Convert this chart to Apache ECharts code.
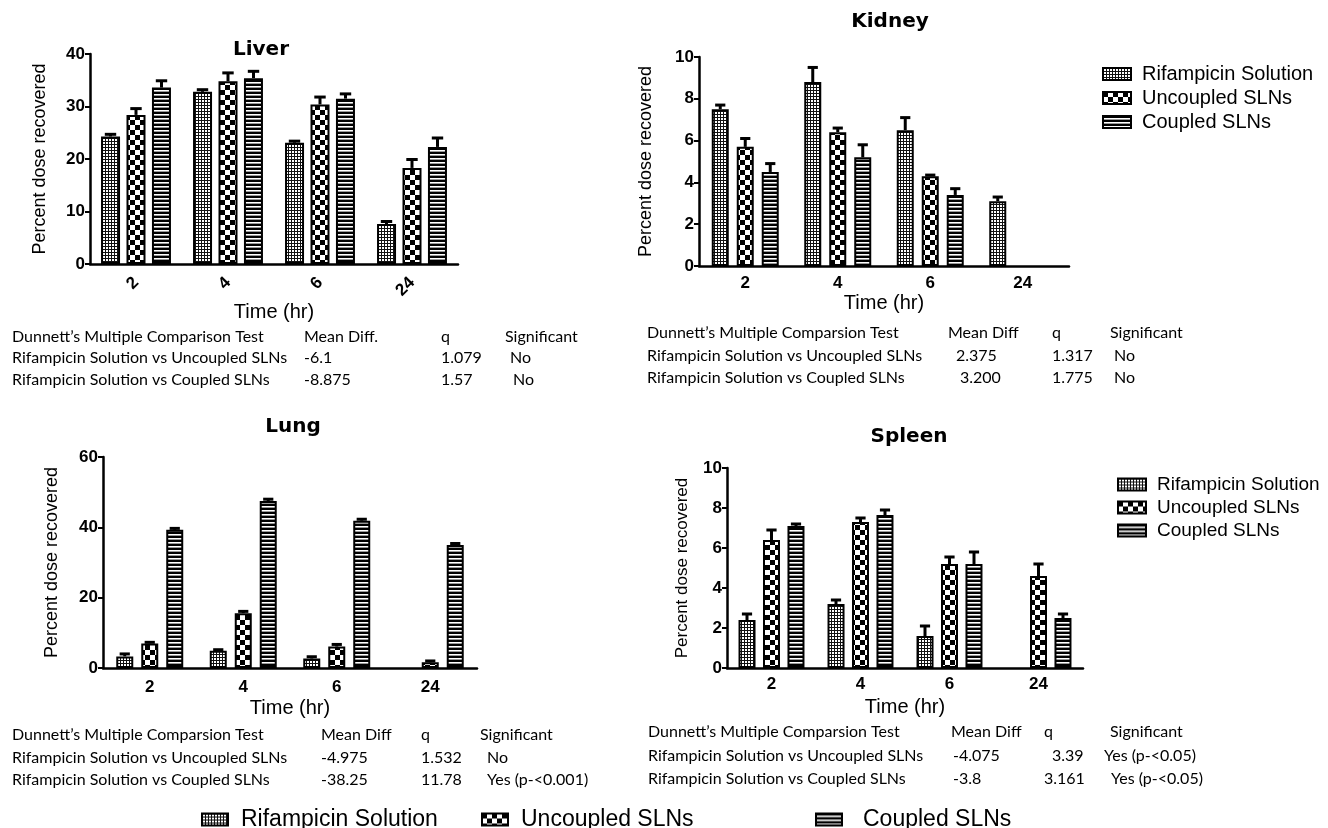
<!DOCTYPE html>
<html>
<head>
<meta charset="utf-8">
<script src="https://cdn.jsdelivr.net/npm/echarts@6/dist/echarts.min.js"></script>
<style>
  html, body { margin: 0; padding: 0; background: #fff; }
  #main { width: 1328px; height: 828px; }
</style>
</head>
<body>
<div id="main"></div>
<script>
// categories and series
var timeLabels = ['2', '4', '6', '24'];
var seriesNames = ['Rifampicin Solution', 'Uncoupled SLNs', 'Coupled SLNs'];

// Liver
var liverRif = [24.3, 32.8, 23.1, 7.6];
var liverRifErr = [0.4, 0.4, 0.3, 0.5];
var liverUnc = [28.4, 34.8, 30.4, 18.3];
var liverUncErr = [1.2, 1.6, 1.4, 1.6];
var liverCoup = [33.6, 35.4, 31.5, 22.3];
var liverCoupErr = [1.3, 1.3, 0.9, 1.7];

// Kidney
var kidneyRif = [7.5, 8.8, 6.5, 3.1];
var kidneyRifErr = [0.2, 0.7, 0.6, 0.2];
var kidneyUnc = [5.7, 6.4, 4.3, null];
var kidneyUncErr = [0.4, 0.2, 0.05, null];
var kidneyCoup = [4.5, 5.2, 3.4, null];
var kidneyCoupErr = [0.4, 0.6, 0.3, null];

// Lung
var lungRif = [3.3, 4.9, 2.7, null];
var lungRifErr = [0.7, 0.3, 0.5, null];
var lungUnc = [7.0, 15.6, 6.1, 1.6];
var lungUncErr = [0.3, 0.5, 0.6, 0.4];
var lungCoup = [39.3, 47.5, 41.9, 35.0];
var lungCoupErr = [0.4, 0.5, 0.4, 0.4];

// Spleen
var spleenRif = [2.4, 3.2, 1.6, null];
var spleenRifErr = [0.3, 0.2, 0.5, null];
var spleenUnc = [6.4, 7.3, 5.2, 4.6];
var spleenUncErr = [0.5, 0.2, 0.35, 0.6];
var spleenCoup = [7.1, 7.65, 5.2, 2.5];
var spleenCoupErr = [0.1, 0.25, 0.6, 0.2];

// Dunnett tables
var liverStats = [
  ['Dunnett\u2019s Multiple Comparison Test', 'Mean Diff.', 'q', 'Significant'],
  ['Rifampicin Solution vs Uncoupled SLNs', '-6.1', '1.079', 'No'],
  ['Rifampicin Solution vs Coupled SLNs', '-8.875', '1.57', 'No']
];
var kidneyStats = [
  ['Dunnett\u2019s Multiple Comparsion Test', 'Mean Diff', 'q', 'Significant'],
  ['Rifampicin Solution vs Uncoupled SLNs', '2.375', '1.317', 'No'],
  ['Rifampicin Solution vs Coupled SLNs', '3.200', '1.775', 'No']
];
var lungStats = [
  ['Dunnett\u2019s Multiple Comparsion Test', 'Mean Diff', 'q', 'Significant'],
  ['Rifampicin Solution vs Uncoupled SLNs', '-4.975', '1.532', 'No'],
  ['Rifampicin Solution vs Coupled SLNs', '-38.25', '11.78', 'Yes (p-<0.001)']
];
var spleenStats = [
  ['Dunnett\u2019s Multiple Comparsion Test', 'Mean Diff', 'q', 'Significant'],
  ['Rifampicin Solution vs Uncoupled SLNs', '-4.075', '3.39', 'Yes (p-<0.05)'],
  ['Rifampicin Solution vs Coupled SLNs', '-3.8', '3.161', 'Yes (p-<0.05)']
];

// fill patterns
function tile(w, h, draw) {
  var c = document.createElement('canvas');
  c.width = w; c.height = h;
  var ctx = c.getContext('2d');
  ctx.fillStyle = '#fff';
  ctx.fillRect(0, 0, w, h);
  draw(ctx);
  return c;
}
var rifTile = tile(3, 3, function (ctx) {
  ctx.fillStyle = '#111';
  ctx.fillRect(0, 0, 3, 1);
  ctx.fillRect(0, 0, 1, 3);
});
var uncTile = tile(10, 10, function (ctx) {
  ctx.fillStyle = '#000';
  ctx.fillRect(0, 0, 5, 5);
  ctx.fillRect(5, 5, 5, 5);
});
var coupTile = tile(4, 4, function (ctx) {
  ctx.fillStyle = '#000';
  ctx.fillRect(0, 0, 4, 2);
  ctx.fillStyle = '#999';
  ctx.fillRect(0, 3, 4, 1);
});
var fills = [
  { image: rifTile, repeat: 'repeat' },
  { image: uncTile, repeat: 'repeat' },
  { image: coupTile, repeat: 'repeat' }
];

var panels = [
  { name: 'Liver', max: 40, interval: 10, vals: [liverRif, liverUnc, liverCoup], errs: [liverRifErr, liverUncErr, liverCoupErr],
    grid: { left: 90, top: 54, width: 368, height: 210 }, barW: 19, gapPx: 6.5, rotate: 45, labMargin: 16, nameGap: 33, yNameGap: 41, yNameSize: 18 },
  { name: 'Kidney', max: 10, interval: 2, vals: [kidneyRif, kidneyUnc, kidneyCoup], errs: [kidneyRifErr, kidneyUncErr, kidneyCoupErr],
    grid: { left: 699, top: 57, width: 370, height: 209 }, barW: 17, gapPx: 8, rotate: 0, labMargin: 9, nameGap: 27, yNameGap: 44, yNameSize: 18 },
  { name: 'Lung', max: 60, interval: 20, vals: [lungRif, lungUnc, lungCoup], errs: [lungRifErr, lungUncErr, lungCoupErr],
    grid: { left: 103, top: 457, width: 374, height: 211 }, barW: 17, gapPx: 8, rotate: 0, labMargin: 11, nameGap: 30, yNameGap: 42, yNameSize: 18 },
  { name: 'Spleen', max: 10, interval: 2, vals: [spleenRif, spleenUnc, spleenCoup], errs: [spleenRifErr, spleenUncErr, spleenCoupErr],
    grid: { left: 727, top: 468, width: 356, height: 200 }, barW: 17, gapPx: 7.5, rotate: 0, labMargin: 8, nameGap: 29, yNameGap: 36, yNameSize: 17 }
];

var titlePos = [[261, 50], [890, 22], [293, 427], [909, 437]];

function errRender(offset, capW) {
  return function (params, api) {
    var c = api.value(0);
    var p0 = api.coord([c, api.value(1)]);
    var p1 = api.coord([c, api.value(2)]);
    var x = p0[0] + offset;
    return {
      type: 'group',
      children: [
        { type: 'line', shape: { x1: x, y1: p0[1], x2: x, y2: p1[1] }, style: { stroke: '#000', lineWidth: 3 } },
        { type: 'line', shape: { x1: x - capW / 2, y1: p1[1], x2: x + capW / 2, y2: p1[1] }, style: { stroke: '#000', lineWidth: 3 } }
      ]
    };
  };
}

var grids = [], xAxes = [], yAxes = [], series = [], graphics = [];
var labFont = 'Liberation Sans';

panels.forEach(function (p, k) {
  grids.push(p.grid);
  xAxes.push({
    type: 'category', gridIndex: k, data: timeLabels,
    name: 'Time (hr)', nameLocation: 'middle', nameGap: p.nameGap,
    nameTextStyle: { fontFamily: labFont, fontSize: 20, color: '#000' },
    axisLine: { lineStyle: { color: '#000', width: 2.5 } },
    axisTick: { alignWithLabel: true, length: 6, lineStyle: { color: '#000', width: 2 } },
    axisLabel: { rotate: p.rotate, margin: p.labMargin, fontFamily: labFont, fontWeight: 'bold', fontSize: 17, color: '#000' }
  });
  yAxes.push({
    type: 'value', gridIndex: k, min: 0, max: p.max, interval: p.interval,
    name: 'Percent dose recovered', nameLocation: 'middle', nameGap: p.yNameGap,
    nameTextStyle: { fontFamily: labFont, fontSize: p.yNameSize, color: '#000' },
    axisLine: { show: true, lineStyle: { color: '#000', width: 2.5 } },
    axisTick: { show: true, length: 5, lineStyle: { color: '#000', width: 2 } },
    splitLine: { show: false },
    axisLabel: { margin: 5, fontFamily: labFont, fontWeight: 'bold', fontSize: 17, color: '#000' }
  });
  var gapPct = (p.gapPx / p.barW * 100).toFixed(0) + '%';
  seriesNames.forEach(function (nm, i) {
    series.push({
      name: nm, type: 'bar', xAxisIndex: k, yAxisIndex: k,
      barWidth: p.barW, barGap: gapPct,
      itemStyle: { color: fills[i], borderColor: '#000', borderWidth: 2 },
      data: p.vals[i],
      z: 2
    });
  });
  seriesNames.forEach(function (nm, i) {
    var data = [];
    p.vals[i].forEach(function (v, j) {
      if (v != null) data.push([j, v, v + p.errs[i][j]]);
    });
    series.push({
      name: nm + ' SEM', type: 'custom', xAxisIndex: k, yAxisIndex: k,
      renderItem: errRender((i - 1) * (p.barW + p.gapPx), p.barW * 0.6),
      data: data, z: 3
    });
  });
  graphics.push({
    type: 'text', x: titlePos[k][0], y: titlePos[k][1],
    style: { text: p.name, font: 'bold 20px "DejaVu Sans"', fill: '#000', align: 'center', verticalAlign: 'middle' }
  });
});

// tables
var tables = [
  { rows: liverStats, ys: [337, 358, 380], xs: [[12, 304, 441, 505], [12, 304, 441, 510], [12, 304, 441, 513]] },
  { rows: kidneyStats, ys: [333, 356, 378], xs: [[647, 948, 1052, 1110], [647, 956, 1052, 1114], [647, 960, 1052, 1114]] },
  { rows: lungStats, ys: [735, 758, 780], xs: [[12, 321, 421, 480], [12, 321, 421, 487], [12, 321, 421, 487]] },
  { rows: spleenStats, ys: [732, 756, 779], xs: [[648, 951, 1044, 1110], [648, 953, 1052, 1104], [648, 953, 1044, 1111]] }
];
tables.forEach(function (t) {
  t.rows.forEach(function (row, r) {
    row.forEach(function (cell, c) {
      graphics.push({
        type: 'text', x: t.xs[r][c], y: t.ys[r],
        style: { text: cell, font: '16px Lato', fill: '#000', align: 'left', verticalAlign: 'middle' }
      });
    });
  });
});

function legendBox(data, left, top, size, iw, ih, gap, padL) {
  return {
    data: data, left: left, top: top, orient: 'vertical', selectedMode: false,
    itemWidth: iw, itemHeight: ih, itemGap: gap, icon: 'rect',
    textStyle: { fontFamily: labFont, fontSize: size, color: '#000', lineHeight: size, padding: [0, 0, 0, padL] }
  };
}

var myChart = echarts.init(document.getElementById('main'));
myChart.setOption({
  animation: false,
  grid: grids,
  xAxis: xAxes,
  yAxis: yAxes,
  legend: [
    legendBox(seriesNames, 1097, 59, 20, 28, 12, 4, 6),
    legendBox(seriesNames, 1112, 470, 19, 28, 12, 4, 6),
    legendBox([seriesNames[0]], 196, 803, 23, 26, 12, 0, 8),
    legendBox([seriesNames[1]], 476, 803, 23, 26, 12, 0, 8),
    legendBox([seriesNames[2]], 810, 803, 23, 26, 12, 0, 16)
  ],
  graphic: graphics,
  series: series
});
</script>
</body>
</html>
